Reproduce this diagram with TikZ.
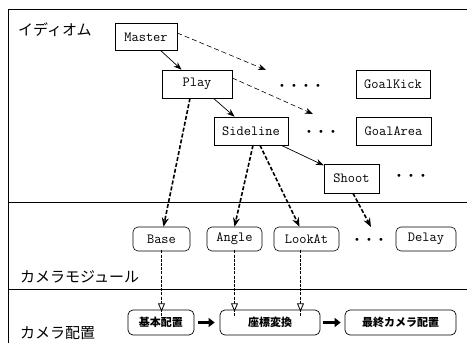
\documentclass[tikz,border=0pt]{standalone}
\usepackage{fontspec}
\newfontfamily\jp{Noto Sans CJK JP}
\usetikzlibrary{arrows.meta,calc}
\tikzset{
  sqbox/.style={draw,line width=0.6pt,inner sep=0pt,font=\ttfamily\fontsize{14}{16}\selectfont},
  rbox/.style={sqbox,rounded corners=5pt},
  jbox/.style={draw,line width=0.7pt,rounded corners=5pt,inner sep=0pt,font=\jp\bfseries\fontsize{11}{13}\selectfont},
  jlabel/.style={anchor=west,inner sep=0pt,font=\jp\fontsize{15}{17}\selectfont},
  dotsnode/.style={inner sep=0pt,font=\fontsize{11}{12}\selectfont},
  solidarrow/.style={line width=0.7pt,-{Stealth[length=8pt,width=6pt]}},
  thindash/.style={line width=0.6pt,dash pattern=on 5pt off 3pt,-{Stealth[length=8pt,width=6pt]}},
  thickdash/.style={line width=1.6pt,dash pattern=on 4pt off 2pt,-{Stealth[length=9pt,width=7pt]}},
  vdash/.style={line width=1.6pt,dash pattern=on 3pt off 1.2pt},
  vtip/.style={line width=0.8pt,fill=white},
  blockarrow/.style={line width=3pt,-{Triangle[length=6pt,width=9pt]}},
  frame/.style={line width=0.6pt}
}
\begin{document}
\begin{tikzpicture}[x=1pt,y=-1pt]
\useasboundingbox (0,0) rectangle (467,343);
% frame
\coordinate (tl) at (8,9);
\coordinate (tr) at (467,9);
\coordinate (bl) at (8,343);
\coordinate (m1l) at (8,202);
\coordinate (m1r) at (467,202);
\coordinate (m2l) at (8,289);
\coordinate (m2r) at (467,289);
\draw[frame] (tr) -- (tl) -- (bl);
\draw[frame] (m1l) -- (m1r);
\draw[frame] (m2l) -- (m2r);
% labels
\node[jlabel] (lidiom) at (18,30) {イディオム};
\node[jlabel] (lmod) at (20,277) {カメラモジュール};
\node[jlabel] (lplace) at (20,333) {カメラ配置};
% idiom boxes
\node[sqbox,minimum width=62pt,minimum height=27pt] (master) at (146,37) {Master};
\node[sqbox,minimum width=70pt,minimum height=28pt] (play) at (197,84) {Play};
\node[sqbox,minimum width=74pt,minimum height=28pt] (side) at (251,131) {Sideline};
\node[sqbox,minimum width=74pt,minimum height=28pt] (gk) at (393,84) {GoalKick};
\node[sqbox,minimum width=75pt,minimum height=28pt] (ga) at (393.5,131) {GoalArea};
\node[sqbox,minimum width=55pt,minimum height=29pt] (shoot) at (351.5,178.5) {Shoot};
\node[dotsnode] (d1) at (300,86) {\textbullet\ \textbullet\ \textbullet\ \textbullet};
\node[dotsnode] (d2) at (321,132) {\textbullet\ \textbullet\ \textbullet};
\node[dotsnode] (d3) at (411,176) {\textbullet\ \textbullet\ \textbullet};
% module boxes
\node[rbox,minimum width=57pt,minimum height=24pt] (base) at (161.5,239) {Base};
\node[rbox,minimum width=55pt,minimum height=24pt] (angle) at (234.5,239) {Angle};
\node[rbox,minimum width=65pt,minimum height=24pt] (lookat) at (306.5,239) {LookAt};
\node[rbox,minimum width=60pt,minimum height=24pt] (delay) at (426,239) {Delay};
\node[dotsnode] (d4) at (369,240) {\textbullet\ \textbullet\ \textbullet};
% placement boxes
\node[jbox,minimum width=66pt,minimum height=25pt] (kihon) at (161,322.5) {基本配置};
\node[jbox,minimum width=100pt,minimum height=25pt] (zahyo) at (270,322.5) {座標変換};
\node[jbox,minimum width=111pt,minimum height=25pt] (saishu) at (400.5,322.5) {最終カメラ配置};
% idiom arrows
\coordinate (mk) at (266,70);
\coordinate (pk) at (313,114);
\coordinate (sk) at (371,227);
\draw[solidarrow] (master) -- (play);
\draw[solidarrow] (play) -- (side);
\draw[solidarrow] (side) -- (shoot);
\draw[thindash] ([yshift=4pt]master.east) -- (mk);
\draw[thindash] ([yshift=6pt]play.east) -- (pk);
% thick dashed to modules
\draw[thickdash] ([xshift=-7pt]play.south) -- ([xshift=2pt]base.north);
\draw[thickdash] ([xshift=2pt]side.south) -- (angle.north);
\draw[thickdash] ([xshift=9pt]side.south) -- ([xshift=-7pt]lookat.north);
\draw[thickdash] ([xshift=1.5pt]shoot.south) -- (sk);
% vertical to placement
\coordinate (v1a) at ([yshift=1pt]base.south);
\coordinate (v1b) at (base.south |- kihon.north);
\coordinate (v2a) at ([yshift=1pt]angle.south);
\coordinate (v2b) at (angle.south |- zahyo.north);
\coordinate (v3a) at ([xshift=-6pt,yshift=1pt]lookat.south);
\coordinate (v3b) at (v3a |- zahyo.north);
\foreach \a/\b in {v1a/v1b,v2a/v2b,v3a/v3b}{
  \draw[vdash] (\a) -- ([yshift=-6pt]\b);
  \draw[vtip] ([yshift=-1pt]\b) -- ++(-3,-7) -- ++(6,0) -- cycle;
}
% block arrows
\draw[blockarrow] ([xshift=4pt]kihon.east) -- ([xshift=-5pt]zahyo.west);
\draw[blockarrow] ([xshift=3pt]zahyo.east) -- ([xshift=-4pt]saishu.west);
\end{tikzpicture}
\end{document}
